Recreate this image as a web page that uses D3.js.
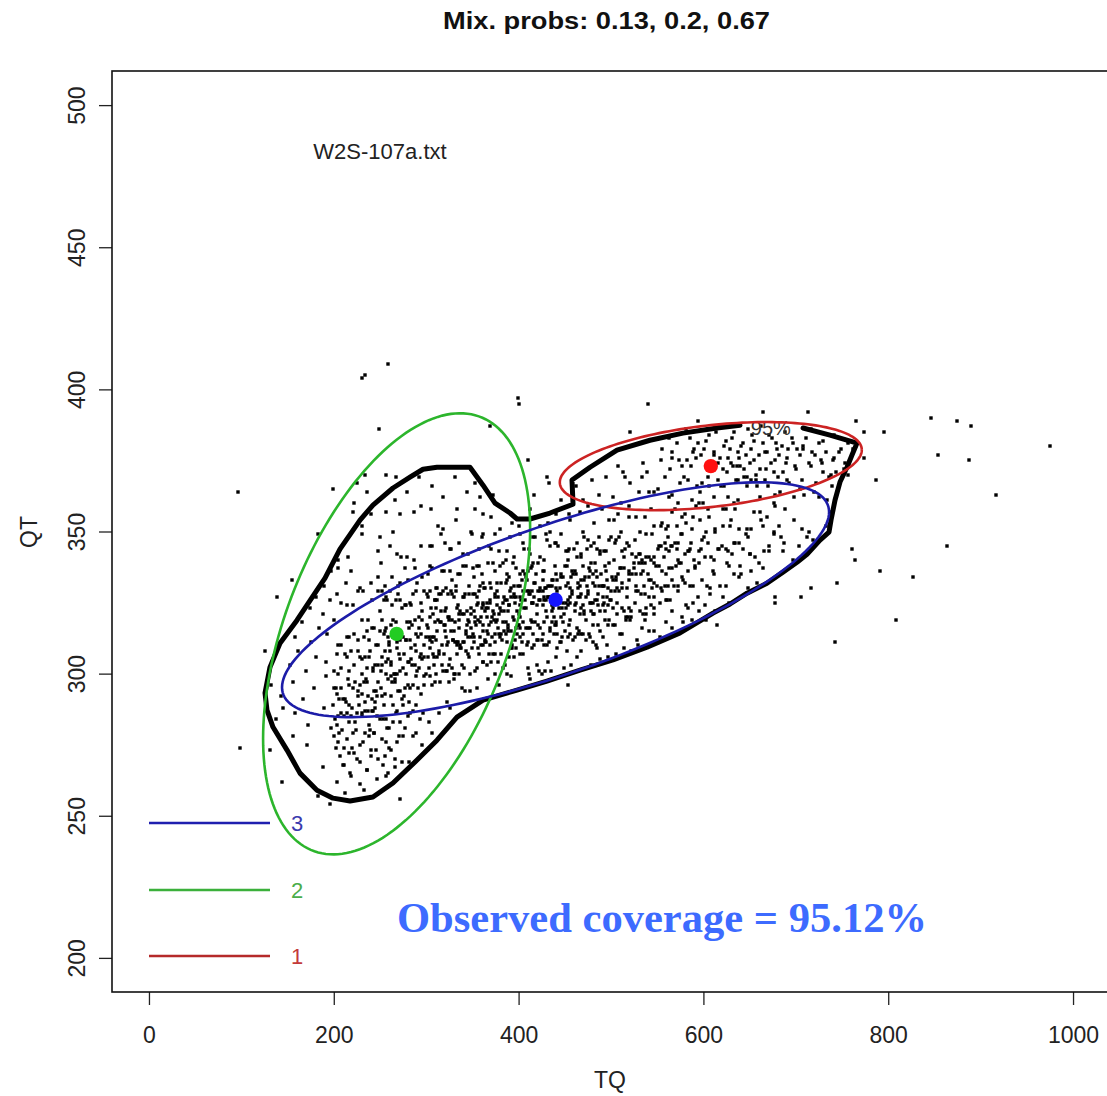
<!DOCTYPE html>
<html>
<head>
<meta charset="utf-8">
<script src="https://cdn.jsdelivr.net/npm/d3@7"></script>
<style>
  html, body { margin: 0; padding: 0; background: #fff; }
  svg { display: block; }
</style>
</head>
<body>
<svg id="chart" width="1107" height="1096"></svg>
<script>
// ---- chart values ----
const xTickValues = [0, 200, 400, 600, 800, 1000];
const yTickValues = [200, 250, 300, 350, 400, 450, 500];
const mixProbs = [0.13, 0.2, 0.67];
const componentIds = ["1", "2", "3"];
// component means (TQ, QT) and covariances [var TQ, cov, var QT]
const componentMeanTQ = [608, 268, 440];
const componentMeanQT = [373, 314, 326];
const componentCov = [[4457, 155.2, 40.1], [3485, 889.8, 1005], [14625, 1523, 284.8]];
const coveragePct = 95.12;
const sampleName = "W2S-107a.txt";
const contourLabel = "95%";

// 95% highest-density contour of the fitted mixture (TQ, QT), gap at the label
const contour95 = [
  [707.8,386.4],[737.0,383.9],[766.2,381.1],[760.8,376.9],[755.4,372.6],[747.8,367.4],[742.4,361.0],
  [738.1,354.0],[735.9,349.8],[726.2,347.0],[712.1,342.0],[701.3,339.2],[686.1,335.7],[668.8,331.8],
  [647.2,328.3],[628.8,324.5],[610.4,321.3],[574.7,314.3],[539.0,309.3],[502.2,304.8],[466.5,301.2],
  [430.7,297.4],[398.3,294.2],[361.5,290.7],[333.3,284.7],[311.7,276.6],[290.1,269.6],[264.1,261.5],
  [242.4,256.6],[217.6,255.2],[199.2,256.2],[181.8,259.0],[163.4,265.0],[149.4,273.1],[134.2,281.2],
  [127.7,287.2],[125.6,293.2],[131.0,302.3],[141.8,310.7],[160.2,318.8],[181.8,329.4],[190.5,333.6],
  [206.7,343.8],[228.4,354.0],[242.4,359.3],[264.1,365.3],[282.5,369.1],[296.6,371.9],[311.7,372.6],
  [347.4,372.6],[361.5,366.3],[374.5,360.0],[390.7,356.5],[398.3,354.4],[412.3,354.4],[434.0,356.5],
  [458.9,359.6],[457.8,368.1],[477.3,372.6],[506.5,378.6],[542.2,382.1],[577.9,384.6],[614.7,386.4],
  [639.6,387.4]
];

// observations (TQ, QT), grouped by region
const dotsUpper = [
  [531,381],[563,383],[581,386],[594,381],[606,384],[617,387],[624,382],[633,385],[641,380],[648,386],[655,382],[662,387],[671,384],[679,381],[688,385],[696,383],[708,380],[716,386],[729,382],[741,384],[756,381],
  [508,373],[513,371],[535,374],[539,371],
  [554,375],[555,379],[564,372],[566,376],[574,375],[577,373],[582,375],[589,378],[590,379],[597,377],
  [601,379],[603,373],[606,372],[610,373],[612,378],[616,374],[618,376],[621,372],[627,376],[630,374],[632,373],[636,373],[637,378],[640,373],[644,372],[646,377],
  [652,379],[655,375],[657,370],[661,372],[667,378],[669,378],[673,374],[676,371],[680,379],[682,377],[686,371],[691,376],[692,379],[699,373],
  [701,379],[708,379],[716,373],[721,377],[727,375],[729,371],[738,370],[740,375],[747,378],
  [752,372],[757,370],[762,379],
  [266,361],[279,364],[292,369],[306,366],[318,362],[331,369],[344,364],[353,367],[358,362],[372,363],
  [417,363],[433,367],[446,361],[462,366],[470,361],[479,368],[487,363],[495,369],
  [502,362],[511,360],[515,369],[521,367],[530,364],[534,369],[541,364],[546,364],
  [551,365],[558,369],[563,362],[566,363],[572,360],[575,367],[583,368],[588,361],[593,366],[596,364],
  [600,360],[606,366],[612,362],[616,368],[622,366],[627,362],[633,360],[637,368],[644,369],[647,369],
  [652,368],[658,366],[661,362],[667,368],[676,360],[678,363],[683,364],[691,368],[698,362],
  [704,365],[709,363],[720,364],[725,362],[734,361],[739,366],
  [231,352],[240,356],[257,357],[264,350],[272,356],[287,357],[294,359],
  [305,358],[313,352],[318,351],[332,354],[333,358],[348,350],
  [353,358],[362,356],[370,355],[380,351],[393,353],
  [400,352],[412,358],[423,352],[432,353],[434,350],[441,356],
  [455,356],[456,354],[466,357],[470,350],[475,359],[482,353],[490,358],[498,354],
  [503,354],[508,356],[511,350],[519,359],[520,355],[527,355],[531,350],[537,355],[543,358],[546,352],
  [554,352],[555,353],[560,351],[566,357],[571,352],[577,355],[581,353],[589,355],[592,359],[596,354],
  [603,350],[605,358],[613,351],[621,352],[624,358],[630,354],[634,358],[638,351],[647,351],
  [651,351],[661,357],[662,354],[669,355],[676,350],[682,352],[688,358],[698,354],
  [707,351],[714,350],[733,352],[737,357],
  [566,378],[571,381],[579,369],[585,383],[592,376],[598,367],[603,382],[605,369],[611,377],[614,385],
  [619,366],[622,380],[626,371],[631,383],[635,368],[638,376],[643,381],[647,366],[650,374],[653,384],
  [657,368],[660,377],[664,381],[668,372],[670,366],[674,383],[677,375],[681,369],[685,380],[689,374],
  [693,367],[697,381],[700,372],[704,377],[707,368],[711,383],[714,374],[718,378],[722,367],[725,381],
  [728,374],[733,378],[736,369],[741,376],[744,371],[749,379],[753,374],[587,373],[609,372],[629,379]
];

const dotsMiddle = [
  [205,340],[215,341],[230,349],[248,343],
  [250,348],[261,345],[268,342],[273,341],[279,341],[287,340],[294,345],
  [304,345],[306,345],[316,349],[320,346],[326,344],[327,344],[336,346],[340,342],[345,342],
  [350,349],[357,344],[360,348],[362,349],[368,345],[370,344],[375,349],[379,343],[386,340],[387,343],[391,348],[395,341],
  [401,349],[405,346],[406,344],[411,344],[412,342],[416,348],[418,348],[423,341],[427,340],[430,349],[431,347],[434,345],[439,346],[440,346],[443,345],[446,349],
  [451,343],[453,343],[455,344],[460,344],[463,346],[463,341],[467,342],[471,348],[474,344],[475,347],[478,345],[482,346],[485,344],[487,348],[488,342],[492,343],[495,343],[498,347],
  [500,348],[504,346],[505,347],[509,348],[512,343],[514,341],[517,346],[519,345],[523,342],[526,347],[527,341],[531,342],[534,340],[538,341],[538,349],[543,340],[544,349],[547,341],
  [551,344],[554,345],[558,346],[559,344],[562,348],[565,345],[569,346],[573,346],[576,349],[580,342],[583,343],[585,344],[587,346],[590,340],[595,343],[597,344],
  [601,348],[605,346],[608,341],[611,340],[616,344],[620,345],[624,344],[627,343],[631,342],[634,346],[639,346],[643,344],[648,348],
  [650,342],[656,341],[666,343],[671,343],[676,349],[686,343],[687,346],[697,340],
  [703,345],[712,348],[719,347],
  [189,331],[197,336],
  [205,337],[213,332],[219,336],[228,330],[240,332],[248,334],
  [251,339],[255,331],[263,334],[269,331],[272,332],[277,337],[280,333],[288,337],[290,332],[296,334],
  [302,335],[304,338],[306,337],[311,330],[312,330],[317,336],[319,336],[321,330],[326,336],[328,333],[332,331],[334,335],[337,335],[340,338],[343,338],[346,331],
  [351,337],[352,334],[355,338],[357,338],[358,331],[360,335],[362,332],[364,330],[367,339],[369,332],[370,330],[372,339],[375,336],[377,332],[380,338],[381,332],[383,339],[386,332],[387,335],[390,334],[392,330],[394,339],[395,331],[397,337],
  [401,331],[402,335],[404,333],[405,336],[408,334],[409,333],[410,336],[413,337],[414,338],[416,339],[417,332],[419,335],[421,339],[423,330],[426,333],[426,336],[429,330],[430,330],[432,331],[434,331],[436,333],[437,333],[440,330],[441,335],[442,333],[445,330],[446,335],[448,334],
  [450,338],[452,338],[453,332],[456,330],[457,334],[458,336],[461,336],[462,335],[464,332],[466,331],[468,333],[470,338],[472,334],[474,331],[476,334],[477,336],[478,339],[480,335],[483,331],[483,339],[485,334],[487,331],[489,335],[491,331],[492,331],[495,336],[497,330],[498,339],
  [501,334],[502,333],[505,333],[507,330],[508,335],[511,337],[512,332],[514,337],[517,330],[519,333],[520,336],[523,335],[525,337],[527,335],[530,339],[532,335],[534,339],[536,331],[537,339],[540,335],[541,333],[544,330],[546,339],[547,332],
  [550,331],[552,338],[555,336],[558,331],[562,331],[563,337],[566,333],[570,338],[573,331],[576,339],[578,333],[580,332],[583,336],[586,331],[589,331],[591,337],[595,339],[598,333],
  [604,331],[607,330],[611,335],[618,331],[624,331],[628,338],[633,335],[638,334],[640,338],[648,330],
  [652,336],[658,332],[664,337],
  [174,323],[181,327],[188,321],[196,326],
  [204,328],[208,325],[214,324],[221,324],[226,329],[232,329],[241,326],[248,329],
  [252,329],[254,326],[256,327],[261,329],[263,324],[267,326],[269,328],[272,326],[277,324],[278,324],[282,325],[284,324],[289,329],[292,320],[294,325],[298,329],
  [301,328],[302,327],[304,329],[305,323],[307,321],[309,326],[311,323],[312,326],[314,328],[316,328],[318,329],[320,322],[321,323],[324,320],[325,320],[327,329],[328,328],[330,327],[332,329],[333,323],[336,321],[337,322],[340,327],[341,321],[342,328],[344,322],[346,328],[348,321],
  [351,328],[352,322],[353,328],[355,324],[356,325],[357,329],[359,320],[361,324],[362,325],[364,322],[365,323],[366,325],[367,323],[369,326],[371,320],[372,322],[374,328],[375,327],[377,324],[378,327],[379,321],[380,323],[383,325],[384,322],[385,326],[387,326],[389,322],[390,324],[391,329],[392,327],[395,327],[396,325],[397,327],[398,322],
  [401,324],[402,327],[402,320],[405,329],[406,323],[407,326],[409,329],[411,329],[412,328],[414,325],[415,329],[416,325],[417,327],[420,324],[421,329],[422,326],[423,326],[426,329],[427,326],[428,327],[430,326],[430,322],[432,327],[434,327],[436,322],[436,324],[438,320],[439,327],[442,326],[443,326],[444,323],[446,320],[447,323],[448,325],
  [451,323],[451,325],[454,324],[456,327],[456,325],[458,329],[461,324],[462,325],[464,327],[466,321],[467,323],[468,328],[471,322],[471,321],[473,327],[475,328],[477,325],[478,322],[481,325],[481,321],[483,326],[485,326],[486,324],[488,322],[491,327],[491,324],[494,322],[496,327],[497,324],[499,326],
  [500,326],[502,323],[504,329],[507,321],[509,329],[512,323],[514,322],[516,320],[518,320],[520,323],[522,320],[526,325],[527,329],[529,329],[531,322],[535,321],[537,328],[538,321],[541,327],[543,324],[546,321],[547,323],
  [553,325],[555,329],[559,326],[564,326],[566,322],[573,329],[577,320],[581,324],[583,323],[589,325],[594,327],[595,322],
  [602,324],[607,328],[613,322],[621,327],[628,325],
  [562,352],[566,345],[569,358],[573,340],[577,349],[580,356],[584,343],[588,351],[591,338],[595,360],
  [599,347],[602,341],[606,355],[610,336],[613,350],[617,344],[621,358],[625,339],[629,352],[633,346],
  [637,361],[641,335],[646,349],[650,342],[655,357],[660,339],[665,352],[671,345],[677,359],[684,348]
];

const dotsCore = [
  [158,313],[166,318],[175,311],[184,316],[193,314],
  [200,319],[205,310],[208,310],[214,313],[216,313],[222,314],[226,312],[231,319],[236,315],[238,312],[241,316],[248,310],
  [250,315],[252,319],[255,315],[256,316],[259,313],[260,310],[262,317],[264,313],[267,318],[268,311],[271,313],[272,312],[275,313],[278,312],[279,318],[281,316],[283,312],[285,317],[288,319],[289,314],[291,313],[294,314],[295,319],[298,310],
  [301,317],[302,316],[303,313],[304,312],[306,313],[308,313],[310,318],[311,312],[313,319],[315,318],[316,318],[317,310],[319,317],[320,315],[321,313],[324,311],[325,319],[327,315],[329,312],[330,315],[331,311],[333,310],[334,311],[335,319],[337,310],[340,311],[341,311],[343,315],[344,317],[345,313],[346,318],[348,313],
  [351,314],[352,311],[353,318],[354,317],[356,319],[358,313],[359,310],[361,317],[362,310],[364,312],[365,311],[366,315],[367,314],[369,310],[370,318],[373,319],[374,311],[375,314],[377,319],[378,316],[380,313],[381,314],[383,318],[384,315],[386,314],[387,311],[388,316],[389,317],[392,315],[393,310],[395,319],[396,312],[398,314],[399,317],
  [400,317],[402,316],[404,311],[405,314],[408,316],[409,310],[410,316],[412,316],[414,318],[417,310],[418,318],[420,312],[421,312],[423,316],[426,314],[427,318],[428,310],[431,310],[433,311],[434,316],[436,318],[438,314],[439,317],[441,317],[442,314],[445,311],[446,311],[448,318],
  [450,315],[453,313],[455,317],[456,314],[459,312],[461,313],[464,314],[465,315],[468,314],[470,314],[473,312],[476,314],[477,313],[480,317],[481,311],[484,310],[486,317],[488,315],[491,313],[493,319],[496,310],[497,317],
  [502,317],[504,317],[510,314],[512,314],[516,319],[521,319],[528,312],[529,310],[534,316],[537,319],[541,315],[547,315],
  [553,313],[559,318],[566,316],[578,318],[588,319],[603,319],
  [153,303],[161,308],[170,301],[181,306],[192,304],
  [200,301],[203,307],[205,300],[208,302],[212,307],[214,306],[217,301],[219,308],[222,303],[226,308],[228,306],[230,300],[234,306],[236,302],[238,306],[242,301],[245,303],[248,303],
  [251,301],[252,303],[255,308],[256,304],[259,305],[261,308],[262,303],[265,300],[266,300],[268,300],[271,307],[272,305],[275,302],[278,300],[280,304],[281,304],[284,309],[285,303],[288,303],[289,308],[292,302],[293,306],[295,305],[298,306],
  [300,300],[303,302],[304,309],[307,307],[308,306],[311,300],[312,306],[314,307],[317,303],[319,307],[321,301],[323,301],[325,303],[328,302],[330,300],[331,300],[333,307],[336,300],[337,309],[339,303],[341,302],[343,308],[345,307],[347,300],
  [350,309],[353,301],[355,302],[357,307],[361,304],[362,304],[366,303],[368,307],[370,304],[372,307],[375,300],[378,304],[381,307],[383,302],[385,303],[387,300],[390,306],[393,309],[395,306],[397,309],
  [401,307],[405,307],[410,302],[411,300],[414,309],[420,303],[422,301],[425,300],[429,301],[432,304],[435,301],[441,306],[442,309],[449,302],
  [452,308],[457,303],[463,306],[468,308],[478,303],[485,309],[488,305],[497,306],
  [505,307],[514,309],[522,308],
  [331,318],[333,311],[334,324],[336,316],[338,309],[339,321],[341,327],[343,314],[345,319],[346,306],
  [348,323],[349,316],[352,313],[353,320],[355,327],[356,309],[358,318],[360,323],[361,315],[363,330],
  [364,311],[366,320],[368,317],[369,325],[371,313],[373,321],[374,307],[376,318],[377,329],[379,314],
  [381,322],[382,312],[384,327],[386,318],[387,333],[389,315],[390,324],[392,309],[394,320],[395,328],
  [397,316],[399,331],[400,321],[402,313],[403,326],[405,318],[407,335],[408,323],[410,311],[411,328],
  [413,319],[415,325],[416,314],[418,332],[420,321],[421,317],[423,329],[425,312],[426,324],[428,336],
  [431,320],[432,327],[434,315],[436,331],[437,323],[439,338],[441,318],[442,329],[444,325],[446,334],
  [447,313],[449,321],[451,331],[453,326],[454,340],[456,319],[458,328],[459,335],[461,322],[463,316],
  [464,330],[466,327],[468,341],[470,324],[471,333],[473,319],[475,329],[476,337],[478,325],[480,332],
  [482,321],[484,336],[486,328],[488,343],[490,331],[492,325],[494,338],[496,333],[498,319],[500,329],
  [503,340],[505,334],[507,325],[510,337],[512,330],[515,344],[517,327],[520,335],[522,322],[525,339],
  [527,331],[530,342],[533,328],[535,336],[538,323],[541,341],[543,333],[546,327],[549,338],[552,345],
  [554,330],[557,341],[559,335],[561,326],[563,343],[566,337],[568,331],[571,344],[574,339],[577,334],
  [231,305],[233,313],[235,298],[237,319],[239,308],[242,302],[244,316],[246,310],[248,297],[250,322],
  [252,306],[254,314],[256,300],[258,326],[260,311],[262,304],[264,319],[266,297],[268,309],[270,315],
  [272,301],[274,323],[276,307],[278,312],[280,296],[282,318],[284,305],[286,328],[288,310],[290,301],
  [292,316],[294,307],[296,322],[298,299],[300,313],[302,306],[304,320],[306,311],[308,303],[310,326],
  [312,315],[314,308],[316,322],[318,301],[320,317],[322,310],[324,328],[326,305],[328,319],[329,312]
];

const dotsLower = [
  [132,296],[143,292],[156,297],[167,291],[179,295],[192,299],
  [200,295],[202,295],[206,291],[208,295],[210,291],[213,290],[215,298],[217,296],[221,295],[223,297],[226,294],[228,296],[231,293],[233,297],[236,297],[237,292],[241,291],[243,294],[245,290],[247,292],
  [251,295],[252,292],[255,293],[259,298],[262,299],[263,297],[266,298],[270,294],[272,294],[276,292],[277,295],[281,290],[283,295],[286,296],[289,299],[291,295],[294,293],[298,296],
  [304,299],[306,296],[310,297],[315,297],[322,290],[325,297],[330,298],[339,295],[342,294],[347,294],
  [355,295],[367,298],[379,296],[392,299],[412,298],
  [137,284],[145,288],[158,286],[172,282],[189,288],
  [201,284],[203,282],[205,285],[209,280],[211,285],[214,286],[216,289],[219,285],[223,283],[225,286],[227,289],[231,286],[234,287],[237,287],[239,280],[241,287],[245,288],[247,285],
  [253,284],[256,284],[260,281],[264,289],[267,286],[272,283],[275,289],[282,286],[286,287],[289,289],[293,284],[297,286],
  [303,283],[314,286],[326,288],
  [156,278],[171,275],
  [200,278],[205,276],[207,271],[211,274],[216,272],[220,274],[221,279],[225,270],[228,275],[234,279],[238,278],[240,271],[244,279],[246,273],
  [255,271],[257,276],[262,273],[268,276],[275,278],[286,278],[289,279],[296,275],[306,279],
  [188,267],[203,262],[211,268],[219,264],[228,261],[236,266],[247,263],[253,268],[259,265],[266,267],[274,269],[281,269],
  [212,258],[233,259],
  [197,281],[199,289],[202,274],[204,293],[206,279],[208,286],[210,268],[212,291],[214,277],[216,283],
  [218,265],[220,288],[222,272],[224,280],[226,292],[228,269],[230,285],[232,276],[234,290],[236,266],
  [238,282],[240,273],[242,287],[244,279],[246,294],[248,270],[250,284],[252,277],[254,289],[256,264],
  [258,281],[260,274],[262,292],[264,283],[266,270],[268,287],[271,278],[274,291],[277,281],[280,285]
];

const dotsStray = [
  [664,392],[713,392],[765,389],[774,385],[795,385],[846,390],[874,389],[890,387],[975,380],[854,377],
  [887,375],[787,368],[917,363],[761,344],[764,340],[864,345],[791,336],[827,334],[745,332],[716,330],
  [706,327],[678,327],[678,325],[808,319],[742,311],[615,317],[774,376],[594,389],[540,395],[521,385],
  [259,409],[234,405],[230,404],[399,397],[400,395],[249,386],[369,387],[410,375],[431,369],[234,370],
  [199,365],[257,370],[267,369],[225,367],[236,364],[183,349],[222,360],[221,357],
  [126,308],[155,333],[144,262],[131,273],[139,327],[99,274],[96,364],[183,257],[196,254],[272,256],[454,296]
];

// ---- drawing ----
const svg = d3.select("#chart");
const x = d3.scaleLinear().domain([-40, 1040]).range([112, 1110]);
const y = d3.scaleLinear().domain([188, 512]).range([992, 71]);

const ellipseStroke = ["#cc2323", "#2cb52c", "#1c1ca8"];
const meanFill = ["#ff1111", "#22cc22", "#1515ff"];
const legendStroke = ["#b52a2a", "#3bb03b", "#1f1faf"];
const legendText = ["#c33a3a", "#4aad4a", "#3a3aae"];
const sans = "'Liberation Sans', Arial, sans-serif";

// title
svg.append("text")
  .attr("x", 606.5).attr("y", 29)
  .attr("text-anchor", "middle")
  .attr("font-family", sans).attr("font-weight", "bold").attr("font-size", 23)
  .attr("textLength", 327).attr("lengthAdjust", "spacingAndGlyphs")
  .attr("fill", "#111")
  .text("Mix. probs: " + mixProbs.join(", "));

// axes
const xAxis = svg.append("g").attr("transform", "translate(0,992)")
  .call(d3.axisBottom(x).tickValues(xTickValues).tickSize(13).tickPadding(22).tickFormat(d3.format("d")));
const yAxis = svg.append("g").attr("transform", "translate(112,0)")
  .call(d3.axisLeft(y).tickValues(yTickValues).tickSize(13).tickFormat(d3.format("d")));
[xAxis, yAxis].forEach(g => {
  g.select(".domain").remove();
  g.selectAll(".tick line").attr("stroke", "#222").attr("stroke-width", 1.3);
  g.selectAll(".tick text").attr("fill", "#222").attr("font-family", sans).attr("font-size", 23);
});
yAxis.selectAll(".tick text")
  .attr("x", null).attr("dy", null)
  .attr("text-anchor", "middle")
  .attr("transform", "translate(-27,0) rotate(-90)");

// axis titles
svg.append("text").attr("x", 610).attr("y", 1088).attr("text-anchor", "middle")
  .attr("font-family", sans).attr("font-size", 23).attr("fill", "#222").text("TQ");
svg.append("text").attr("transform", "translate(37,532) rotate(-90)").attr("text-anchor", "middle")
  .attr("font-family", sans).attr("font-size", 23).attr("fill", "#222").text("QT");

// plot frame
svg.append("rect").attr("x", 112).attr("y", 71).attr("width", 998).attr("height", 921)
  .attr("fill", "none").attr("stroke", "#111").attr("stroke-width", 1.6);

// observations
const allDots = dotsUpper.concat(dotsMiddle, dotsCore, dotsLower, dotsStray);
svg.append("g")
  .selectAll("rect").data(allDots).join("rect")
  .attr("x", d => Math.round(x(d[0])) - 1.7)
  .attr("y", d => Math.round(y(d[1])) - 1.7)
  .attr("width", 3.4).attr("height", 3.4)
  .attr("fill", "#000");

// sample label
svg.append("text").attr("x", x(250)).attr("y", y(484)).attr("dy", "0.36em")
  .attr("text-anchor", "middle").attr("font-family", sans).attr("font-size", 22)
  .attr("fill", "#222").text(sampleName);

// 95% contour
const line = d3.line().x(d => x(d[0])).y(d => y(d[1]));
svg.append("path").attr("d", line(contour95))
  .attr("fill", "none").attr("stroke", "#000").attr("stroke-width", 5)
  .attr("stroke-linejoin", "round").attr("stroke-linecap", "round");
svg.append("text").attr("x", x(673)).attr("y", y(386.4)).attr("dy", "0.36em")
  .attr("text-anchor", "middle").attr("font-family", sans).attr("font-size", 20)
  .attr("fill", "#333").text(contourLabel);

// 95% ellipses of each component
const chi95 = Math.sqrt(5.991);
function ellipsePoints(mx, my, c) {
  const l11 = Math.sqrt(c[0]), l21 = c[1] / l11, l22 = Math.sqrt(c[2] - l21 * l21);
  return d3.range(0, 361, 2).map(a => {
    const t = a * Math.PI / 180, u = chi95 * Math.cos(t), v = chi95 * Math.sin(t);
    return [mx + l11 * u, my + l21 * u + l22 * v];
  });
}
componentIds.forEach((id, i) => {
  svg.append("path")
    .attr("d", line(ellipsePoints(componentMeanTQ[i], componentMeanQT[i], componentCov[i])))
    .attr("fill", "none").attr("stroke", ellipseStroke[i]).attr("stroke-width", 2.6);
});
componentIds.forEach((id, i) => {
  svg.append("circle").attr("cx", x(componentMeanTQ[i])).attr("cy", y(componentMeanQT[i]))
    .attr("r", 7.2).attr("fill", meanFill[i]);
});

// legend (top to bottom: 3, 2, 1)
const legendRows = [2, 1, 0];
const legendY = [823, 890, 956];
legendRows.forEach((ci, k) => {
  svg.append("line").attr("x1", 149).attr("x2", 270).attr("y1", legendY[k]).attr("y2", legendY[k])
    .attr("stroke", legendStroke[ci]).attr("stroke-width", 2.6);
  svg.append("text").attr("x", 297).attr("y", legendY[k]).attr("dy", "0.36em")
    .attr("text-anchor", "middle").attr("font-family", sans).attr("font-size", 22)
    .attr("fill", legendText[ci]).text(componentIds[ci]);
});

// coverage note
svg.append("text").attr("x", 397).attr("y", 932)
  .attr("font-family", "'Liberation Serif', 'Times New Roman', serif").attr("font-weight", "bold")
  .attr("font-size", 42).attr("textLength", 530).attr("lengthAdjust", "spacingAndGlyphs")
  .attr("fill", "#3d6bff")
  .text("Observed coverage = " + coveragePct + "%");
</script>
</body>
</html>
